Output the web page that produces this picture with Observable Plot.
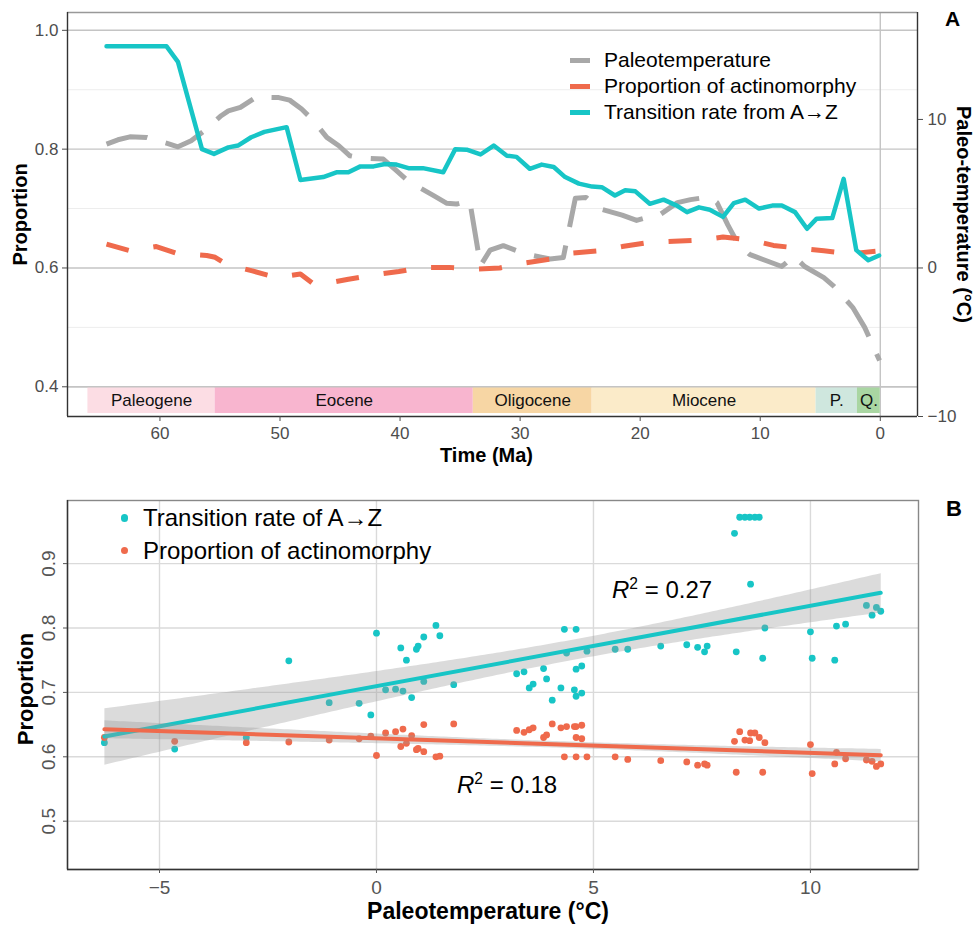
<!DOCTYPE html>
<html><head><meta charset="utf-8">
<script src="https://cdn.jsdelivr.net/npm/d3@7"></script>
<script src="https://cdn.jsdelivr.net/npm/@observablehq/plot@0.6"></script>
<style>
body{margin:0;background:#fff;font-family:"Liberation Sans",Arial,sans-serif;}
#wrap{position:relative;width:974px;height:927px;overflow:hidden;background:#fff;}
#top,#bot{position:absolute;left:0;}
#top{top:0}#bot{top:470px}
.ov{position:absolute;white-space:nowrap;color:#000;}
.ov sup{font-size:65%;line-height:0;vertical-align:0.55em;}
</style></head><body><div id="wrap"><div id="top"></div><div id="bot"></div></div>
<script>
// ---------- Panel A data (age in Ma) ----------
const rateAge = [64.45,59.45,58.5,56.5,55.5,54.3,53.5,52.4,51.3,49.45,48.3,46.4,45.3,44.3,43.3,42.2,41.25,40.3,39.3,38.1,36.4,35.4,34.45,33.3,32.2,31.1,30.3,29.2,28.2,27.2,26.25,25.1,24.0,23.2,22.1,21.25,20.4,19.2,18.05,16.95,16.1,15.1,14.2,13.1,12.2,11.25,10.1,9.0,8.2,7.1,6.1,5.3,4.0,3.05,2.0,1.0,0.1];
const rateVal = [0.973,0.973,0.947,0.800,0.792,0.803,0.806,0.820,0.829,0.837,0.748,0.753,0.761,0.761,0.771,0.771,0.775,0.774,0.768,0.768,0.761,0.800,0.799,0.791,0.806,0.789,0.787,0.767,0.774,0.770,0.753,0.742,0.737,0.736,0.722,0.731,0.729,0.708,0.715,0.705,0.694,0.702,0.698,0.686,0.709,0.715,0.700,0.705,0.705,0.694,0.666,0.683,0.684,0.750,0.630,0.613,0.621];

const tempAge = [64.45,63.5,62.5,61.1,59.2,58.5,57.4,56.3,54.9,54.3,53.3,52.0,50.1,49.2,48.2,47.2,46.1,45.1,44.2,43.2,41.4,40.3,39.2,38.8,37.2,36.1,35.3,34.2,33.3,32.5,31.4,30.3,29.3,27.5,26.4,25.4,24.5,23.4,21.5,20.3,19.2,18.3,16.9,15.8,14.3,13.6,12.7,11.9,10.9,9.2,8.2,7.2,6.3,4.7,3.9,2.3,1.3,0.06];
const tempVal = [8.34,8.63,8.83,8.79,8.34,8.16,8.57,9.24,10.25,10.58,10.81,11.5,11.47,11.3,10.7,9.91,8.79,8.23,7.56,7.40,7.33,6.55,5.76,5.6,4.87,4.35,4.30,4.53,0.16,1.2,1.5,1.17,0.9,0.6,0.7,4.7,4.75,4.0,3.56,3.2,3.45,3.62,4.4,4.6,4.78,4.4,2.9,1.7,0.92,0.4,0.1,0.8,0.1,-0.65,-1.2,-2.65,-4.0,-6.23];

const actAge = [64.45,62.5,60.3,58.5,56.1,55.4,54.45,52.3,50.3,48.3,47.2,46.4,44.3,42.3,40.1,38.2,35.9,33.9,31.7,29.7,27.5,25.7,23.3,21.5,19.2,17.2,15.0,13.1,10.8,8.9,6.7,4.7,2.5,0.4];
const actVal = [0.640,0.629,0.636,0.624,0.621,0.618,0.606,0.595,0.584,0.590,0.573,0.573,0.581,0.588,0.594,0.601,0.601,0.598,0.600,0.608,0.615,0.625,0.629,0.636,0.643,0.645,0.647,0.652,0.647,0.638,0.633,0.629,0.624,0.628];

const epochNames  = ["Paleogene","Eocene","Oligocene","Miocene","P.","Q."];
const epochStart  = [66,55.4,33.9,24.0,5.35,1.9];
const epochEnd    = [55.4,33.9,24.0,5.35,1.9,0];
const epochColors = ["#FCDDE4","#F8B5CF","#F7D6A4","#FBEBC9","#CFE7DE","#A9D6A2"];

const ageTicks   = [60,50,40,30,20,10,0];
const propTicksA = [0.4,0.6,0.8,1.0];
const propMinorA = [0.5,0.7,0.9];
const tempTicksA = [-10,0,10];
const legendA    = ["Paleotemperature","Proportion of actinomorphy","Transition rate from A\u2192Z"];

// ---------- Panel B data ----------
const tempB = [-6.27,-4.65,-3.00,-2.02,-1.09,-0.40,-0.13,0.00,0.21,0.44,0.56,0.61,0.69,0.81,0.92,0.96,1.09,1.09,1.37,1.46,1.78,3.23,3.40,3.52,3.61,3.85,3.92,4.05,4.25,4.33,4.38,4.56,4.60,4.60,4.60,4.73,4.73,4.85,5.50,5.79,6.55,7.15,7.40,7.56,7.62,8.25,8.29,8.37,8.49,8.60,8.62,8.72,8.82,8.90,8.95,10.00,10.04,10.56,10.60,10.81,11.29,11.42,11.52,11.62];
const rateB = [0.622,0.612,0.630,0.749,0.684,0.683,0.665,0.792,0.704,0.705,0.769,0.702,0.750,0.692,0.767,0.772,0.786,0.717,0.804,0.788,0.712,0.729,0.732,0.707,0.713,0.737,0.721,0.688,0.707,0.798,0.761,0.704,0.798,0.736,0.694,0.741,0.699,0.764,0.767,0.767,0.772,0.774,0.770,0.763,0.772,0.947,0.763,0.972,0.972,0.972,0.868,0.972,0.972,0.753,0.800,0.794,0.753,0.750,0.803,0.806,0.835,0.820,0.832,0.826];
const actB  = [0.630,0.624,0.622,0.623,0.626,0.628,0.632,0.602,0.637,0.639,0.616,0.643,0.621,0.633,0.611,0.613,0.608,0.650,0.600,0.601,0.651,0.641,0.638,0.642,0.645,0.630,0.634,0.651,0.645,0.600,0.647,0.647,0.600,0.630,0.647,0.628,0.649,0.600,0.600,0.596,0.594,0.592,0.587,0.589,0.587,0.624,0.576,0.639,0.626,0.625,0.637,0.637,0.630,0.576,0.622,0.619,0.574,0.589,0.607,0.597,0.595,0.593,0.585,0.589];
const tempTicksB = [-5,0,5,10];
const propTicksB = [0.5,0.6,0.7,0.8,0.9];
const legendB    = ["Transition rate of A\u2192Z","Proportion of actinomorphy"];
const r2Labels   = ["0.27","0.18"];

// ---------- styling / helpers ----------
const cyan = "#17C5C6", red = "#EF6A4C", gray = "#A8A8A8";
const font = '"Liberation Sans", Arial, sans-serif';
const tempToProp = t => 0.6 + 0.025 * t;
const fmtNum = d => d < 0 ? "\u2212" + Math.abs(d) : String(d);

const rateData = rateAge.map((a, i) => ({age: a, v: rateVal[i]}));
const tempData = tempAge.map((a, i) => ({age: a, t: tempVal[i]}));
const actData  = actAge.map((a, i) => ({age: a, v: actVal[i]}));
const epochs = epochNames.map((n, i) => ({name: n, x1: epochStart[i], x2: epochEnd[i], fill: epochColors[i]}));
const bData = tempB.map((t, i) => ({t, rate: rateB[i], act: actB[i]}));

const xDomA = [67.7, -3.1], yDomA = [0.35, 1.03];
const bandLo = 0.355, bandHi = 0.4;

const plotA = Plot.plot({
  width: 974, height: 470, marginLeft: 67, marginRight: 57, marginTop: 12, marginBottom: 54,
  x: {domain: xDomA}, y: {domain: yDomA},
  style: {fontFamily: font, fontSize: "17px", color: "#000", background: "#fff", overflow: "visible"},
  marks: [
    Plot.ruleY(propMinorA, {stroke: "#ededed", strokeWidth: 1}),
    Plot.ruleY(propTicksA, {stroke: "#c4c4c4", strokeWidth: 1.4}),
    Plot.ruleX([0], {stroke: "#c4c4c4", strokeWidth: 1.4}),
    Plot.rect(epochs, {x1: "x1", x2: "x2", y1: bandLo, y2: bandHi, fill: "fill"}),
    Plot.ruleY([bandHi], {stroke: "#c4c4c4", strokeWidth: 1.4}),
    Plot.text(epochs, {x: d => (d.x1 + d.x2) / 2, y: (bandLo + bandHi) / 2, text: "name", fontSize: 17, fill: "#111"}),
    Plot.line(tempData, {x: "age", y: d => tempToProp(d.t), stroke: gray, strokeWidth: 5, strokeDasharray: "42,19", strokeLinecap: "butt", strokeLinejoin: "round"}),
    Plot.line(actData, {x: "age", y: "v", stroke: red, strokeWidth: 5, strokeDasharray: "23,25", strokeLinecap: "butt", strokeLinejoin: "round"}),
    Plot.line(rateData, {x: "age", y: "v", stroke: cyan, strokeWidth: 4.5, strokeLinejoin: "round"}),
    Plot.ruleY([yDomA[0]], {stroke: "#333", strokeWidth: 1.4}),
    Plot.ruleY([yDomA[1]], {stroke: "#999", strokeWidth: 1.4}),
    Plot.ruleX([xDomA[0]], {stroke: "#333", strokeWidth: 1.4}),
    Plot.ruleX([xDomA[1]], {stroke: "#333", strokeWidth: 1.4}),
    Plot.axisX({ticks: ageTicks, tickSize: 5, tickPadding: 5, fontSize: 17, color: "#4d4d4d", label: null}),
    Plot.axisY({ticks: propTicksA, tickFormat: d => d.toFixed(1), tickSize: 5, tickPadding: 4, fontSize: 17, color: "#4d4d4d", label: null}),
    Plot.axisY({anchor: "right", ticks: tempTicksA.map(tempToProp), tickFormat: d => fmtNum(Math.round((d - 0.6) / 0.025)), tickSize: 5, tickPadding: 5, fontSize: 17, color: "#4d4d4d", label: null}),
    Plot.text(["Time (Ma)"], {text: d => d, frameAnchor: "bottom", textAnchor: "middle", lineAnchor: "middle", dy: 39, dx: -6, fontSize: 20, fontWeight: "bold"}),
    Plot.text(["Proportion"], {text: d => d, frameAnchor: "left", textAnchor: "middle", lineAnchor: "middle", dx: -47, rotate: -90, fontSize: 20, fontWeight: "bold"}),
    Plot.text(["Paleo-temperature (\u00B0C)"], {text: d => d, frameAnchor: "right", textAnchor: "middle", lineAnchor: "middle", dx: 46, rotate: 90, fontSize: 20, fontWeight: "bold"})
  ]
});
document.getElementById("top").appendChild(plotA);

const xDomB = [-7.12, 12.49], yDomB = [0.425, 0.998];
const plotB = Plot.plot({
  width: 974, height: 457, marginLeft: 67, marginRight: 56, marginTop: 30, marginBottom: 58,
  x: {domain: xDomB}, y: {domain: yDomB},
  style: {fontFamily: font, fontSize: "19px", color: "#000", background: "#fff", overflow: "visible"},
  marks: [
    Plot.ruleX(tempTicksB, {stroke: "#dadada", strokeWidth: 1.4}),
    Plot.ruleY(propTicksB, {stroke: "#dadada", strokeWidth: 1.4}),
    Plot.frame({stroke: "#888", strokeWidth: 1.4}),
    Plot.ruleX([xDomB[0]], {stroke: "#333", strokeWidth: 1.4}),
    Plot.ruleY([yDomB[0]], {stroke: "#333", strokeWidth: 1.4}),
    Plot.dot(bData, {x: "t", y: "rate", r: 3.4, fill: cyan}),
    Plot.dot(bData, {x: "t", y: "act", r: 3.4, fill: red}),
    Plot.linearRegressionY(bData, {x: "t", y: "rate", stroke: cyan, strokeWidth: 4, fill: "#999", fillOpacity: 0.35}),
    Plot.linearRegressionY(bData, {x: "t", y: "act", stroke: red, strokeWidth: 4, fill: "#999", fillOpacity: 0.35}),
    Plot.axisX({ticks: tempTicksB, tickFormat: fmtNum, tickSize: 4, tickPadding: 7, fontSize: 19, color: "#555", label: null}),
    Plot.axisY({ticks: propTicksB, tickFormat: () => "", tickSize: 4, color: "#555", label: null}),
    Plot.text(propTicksB, {y: d => d, text: d => d.toFixed(1), frameAnchor: "left", textAnchor: "middle", lineAnchor: "middle", rotate: -90, dx: -19, fontSize: 19, fill: "#555"}),
    Plot.text(["Paleotemperature (\u00B0C)"], {text: d => d, frameAnchor: "bottom", textAnchor: "middle", lineAnchor: "middle", dy: 42, dx: -5, fontSize: 23, fontWeight: "bold"}),
    Plot.text(["Proportion"], {text: d => d, frameAnchor: "left", textAnchor: "middle", lineAnchor: "middle", dx: -42, dy: 4, rotate: -90, fontSize: 22, fontWeight: "bold"})
  ]
});
document.getElementById("bot").appendChild(plotB);

// ---------- overlays: legends, panel letters, R² ----------
const wrap = document.getElementById("wrap");
function ov(html, style) {
  const d = document.createElement("div");
  d.className = "ov"; d.innerHTML = html; Object.assign(d.style, style);
  wrap.appendChild(d); return d;
}
const legColorsA = [gray, red, cyan];
legendA.forEach((lab, i) => {
  const cy = 60 + i * 26;
  ov("", {left: "570px", top: (cy - 2.5) + "px", width: "20px", height: "5px", background: legColorsA[i]});
  ov(lab, {left: "604px", top: (cy - 13) + "px", fontSize: "21px", lineHeight: "26px"});
});
const legColorsB = [cyan, red];
legendB.forEach((lab, i) => {
  const cy = 518 + i * 32.5;
  ov("", {left: "120.5px", top: (cy - 3.7) + "px", width: "7.4px", height: "7.4px", borderRadius: "50%", background: legColorsB[i]});
  ov(lab, {left: "143px", top: (cy - 15) + "px", fontSize: "24px", lineHeight: "30px"});
});
ov("A", {left: "945px", top: "8px", fontSize: "21px", lineHeight: "21px", fontWeight: "bold"});
ov("B", {left: "946px", top: "498px", fontSize: "22px", lineHeight: "22px", fontWeight: "bold"});
ov("<i>R</i><sup>2</sup> = " + r2Labels[0], {left: "612px", top: "575px", fontSize: "24px", lineHeight: "30px"});
ov("<i>R</i><sup>2</sup> = " + r2Labels[1], {left: "457px", top: "770px", fontSize: "24px", lineHeight: "30px"});
</script></body></html>
